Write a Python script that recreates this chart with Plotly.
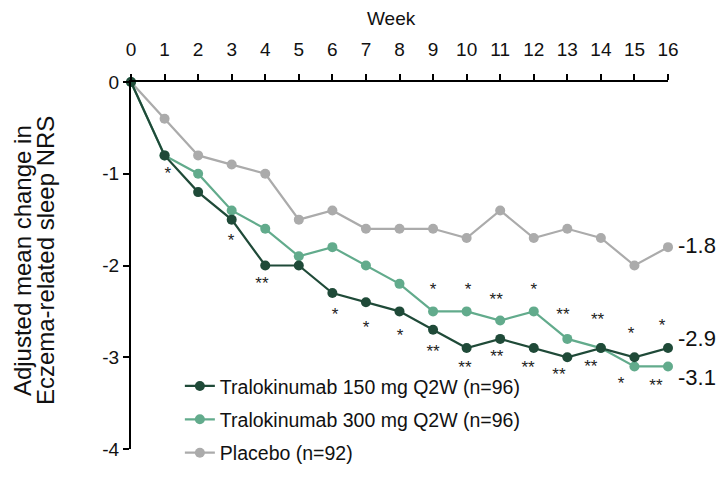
import plotly.graph_objects as go

weeks = list(range(17))
trl150 = [0, -0.8, -1.2, -1.5, -2.0, -2.0, -2.3, -2.4, -2.5, -2.7, -2.9, -2.8, -2.9, -3.0, -2.9, -3.0, -2.9]
trl300 = [0, -0.8, -1.0, -1.4, -1.6, -1.9, -1.8, -2.0, -2.2, -2.5, -2.5, -2.6, -2.5, -2.8, -2.9, -3.1, -3.1]
placebo = [0, -0.4, -0.8, -0.9, -1.0, -1.5, -1.4, -1.6, -1.6, -1.6, -1.7, -1.4, -1.7, -1.6, -1.7, -2.0, -1.8]

names = ["Tralokinumab 150 mg Q2W (n=96)", "Tralokinumab 300 mg Q2W (n=96)", "Placebo (n=92)"]
colors = ["#1f4a38", "#62ab8c", "#ababab"]

y_ticks = [0, -1, -2, -3, -4]
y_tick_text = ["0", "-1", "-2", "-3", "-4"]

# significance markers (position, label)
sig_x = [1.1, 2.98, 3.9, 6.08, 7.0, 8.02, 9.0, 9.0, 10.04, 9.95, 10.88, 10.9,
         12.0, 11.83, 12.87, 12.75, 13.9, 13.7, 14.9, 14.6, 15.82, 15.64]
sig_y = [-1.01, -1.74, -2.21, -2.55, -2.69, -2.78, -2.27, -2.95, -2.27, -3.13, -2.38, -3.01,
         -2.27, -3.12, -2.55, -3.20, -2.60, -3.11, -2.76, -3.30, -2.67, -3.32]
sig_lbl = ["*", "*", "**", "*", "*", "*", "*", "**", "*", "**", "**", "**",
           "*", "**", "**", "**", "**", "**", "*", "*", "*", "**"]

end_labels = ["-2.9", "-3.1", "-1.8"]
end_label_y = [-2.8, -3.22, -1.78]

x_title = "Week"
y_title_lines = ["Adjusted mean change in", "Eczema-related sleep NRS"]

font = "Liberation Sans, Arial, sans-serif"

fig = go.Figure()
series = [trl150, trl300, placebo]
for i in [2, 1, 0]:
    fig.add_trace(go.Scatter(
        x=weeks, y=series[i], mode="lines+markers", name=names[i],
        line=dict(color=colors[i], width=2.2),
        marker=dict(color=colors[i], size=10),
        cliponaxis=False, legendgroup=str(i), legendrank=i + 1,
    ))

fig.add_trace(go.Scatter(
    x=sig_x, y=sig_y, mode="text", text=sig_lbl, showlegend=False,
    textfont=dict(family=font, size=17, color="#222222"), cliponaxis=False,
))

for lbl, yv in zip(end_labels, end_label_y):
    fig.add_annotation(x=16, y=yv, text=lbl, showarrow=False, xanchor="left",
                       xshift=8, font=dict(family=font, size=22, color="#111111"))

for k, line in enumerate(y_title_lines):
    fig.add_annotation(xref="paper", yref="paper", x=(-109 + 23 * k) / 537, y=0.512,
                       text=line, showarrow=False, textangle=-90,
                       xanchor="center", yanchor="middle",
                       font=dict(family=font, size=24, color="#111111"))

fig.add_annotation(xref="paper", yref="paper", x=0.486, y=1.174, text=x_title,
                   showarrow=False, xanchor="center", yanchor="middle",
                   font=dict(family=font, size=19, color="#111111"))

fig.update_layout(
    width=718, height=494,
    margin=dict(l=131, r=50, t=82, b=45),
    paper_bgcolor="white", plot_bgcolor="white",
    font=dict(family=font, size=19, color="#111111"),
    showlegend=True,
    legend=dict(x=0.091, y=0.224, xanchor="left", yanchor="top",
                font=dict(family=font, size=19.5, color="#111111"),
                bgcolor="rgba(0,0,0,0)", tracegroupgap=5, traceorder="grouped"),
    xaxis=dict(range=[0, 16], side="top", tickmode="array", tickvals=weeks,
               ticks="outside", ticklen=6, tickwidth=1.5, tickcolor="black",
               showline=True, linecolor="black", linewidth=2, showgrid=False,
               zeroline=False,
               tickfont=dict(family=font, size=19, color="#111111"), ticklabelstandoff=10),
    yaxis=dict(range=[-4, 0], tickmode="array", tickvals=y_ticks, ticktext=y_tick_text,
               ticks="outside", ticklen=6, tickwidth=1.5, tickcolor="black",
               showline=True, linecolor="black", linewidth=2, showgrid=False,
               zeroline=False, tickfont=dict(family=font, size=19, color="#111111")),
)

fig.write_html("out.html")
